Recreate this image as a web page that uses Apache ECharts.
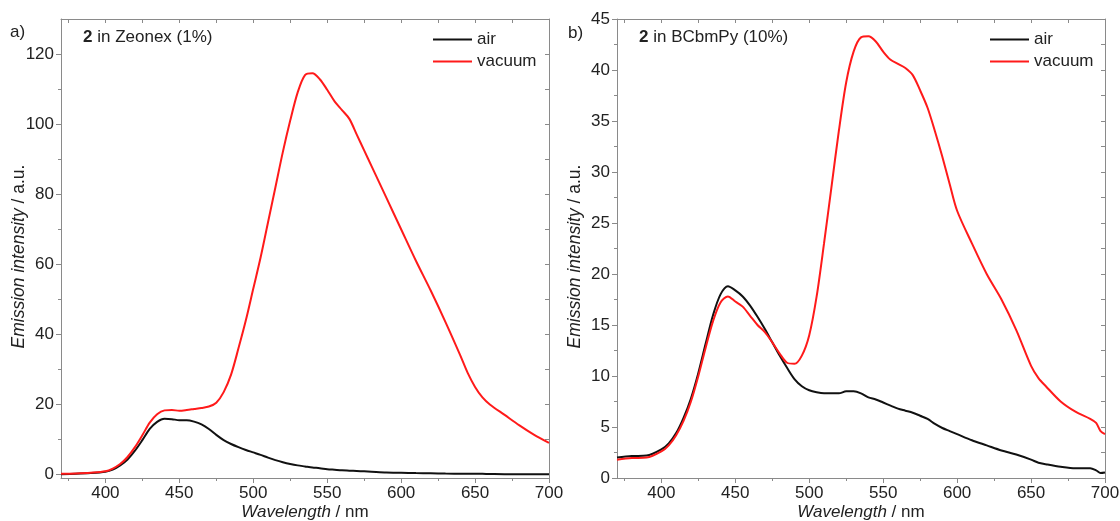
<!DOCTYPE html>
<html><head><meta charset="utf-8">
<script src="https://cdn.jsdelivr.net/npm/echarts@6/dist/echarts.min.js"></script>
<style>html,body{margin:0;padding:0;background:#fff}#c{width:1120px;height:521px}</style>
</head><body><div id="c"></div>
<script>
// ---------- data ----------
const wavelengthA = [370,380,390,400,405,410,415,420,425,430,435,440,445,450,455,460,465,470,475,480,485,490,495,500,505,510,515,520,525,530,535,540,545,550,555,560,565,570,575,580,590,600,610,620,630,640,645,650,655,660,670,680,690,700];
const airA = [0.1,0.2,0.4,0.8,1.4,2.6,4.3,6.8,9.8,13.0,15.0,15.9,15.8,15.5,15.5,15.1,14.3,13.0,11.3,9.8,8.7,7.8,7.0,6.3,5.6,4.8,4.1,3.5,3.0,2.6,2.3,2.0,1.8,1.5,1.35,1.2,1.1,1.0,0.9,0.8,0.6,0.5,0.4,0.35,0.25,0.2,0.2,0.2,0.18,0.15,0.1,0.1,0.1,0.05];
const vacuumA = [0.2,0.3,0.5,0.9,1.7,3.0,5.0,7.8,11.2,14.8,17.2,18.3,18.4,18.2,18.4,18.7,19.0,19.4,20.5,23.5,28.5,36,44,53,62,72,82,92,101,109,114,114.5,112.8,109.8,106.5,104,101.5,97,92.5,88,79,70,61,52.5,43.5,34,29,25,22,20,17,14,11.3,9];

const wavelengthB = [370,380,390,400,405,410,415,420,425,430,435,440,445,450,455,460,465,470,475,480,485,490,495,500,505,510,515,520,525,530,535,540,545,550,555,560,565,570,575,580,585,590,595,600,610,620,630,640,650,655,660,670,680,690,694,697,700];
const airB = [2.0,2.15,2.2,2.8,3.4,4.4,5.9,7.8,10.3,13.2,16.0,18.0,18.8,18.4,17.8,16.9,15.8,14.6,13.3,12.0,10.8,9.7,9.0,8.6,8.4,8.3,8.3,8.3,8.5,8.5,8.3,7.9,7.7,7.4,7.1,6.8,6.6,6.4,6.1,5.8,5.3,4.9,4.6,4.3,3.7,3.2,2.7,2.3,1.8,1.5,1.35,1.1,0.95,0.95,0.75,0.5,0.55];
const vacuumB = [1.8,1.95,2.0,2.6,3.2,4.2,5.6,7.5,10.0,12.8,15.4,17.2,17.8,17.3,16.8,15.9,15.0,14.3,13.3,12.2,11.3,11.2,12.0,14.0,17.8,23.0,28.5,34.0,38.8,41.8,43.2,43.3,42.8,41.8,41.0,40.6,40.2,39.5,38.0,36.3,34.0,31.5,28.8,26.2,23.0,20.0,17.5,14.5,11.0,9.8,9.0,7.5,6.5,5.8,5.4,4.6,4.3];

const xMajorTicks = [400,450,500,550,600,650,700];
const xMinorTicks = [375,425,475,525,575,625,675];
const yMajorTicksA = [0,20,40,60,80,100,120];
const yMinorTicksA = [10,30,50,70,90,110];
const yMajorTicksB = [0,5,10,15,20,25,30,35,40,45];
const yMinorTicksB = [2.5,7.5,12.5,17.5,22.5,27.5,32.5,37.5,42.5];

const seriesNames = ['air','vacuum'];
const panelTitles = ['2 in Zeonex (1%)','2 in BCbmPy (10%)'];
const panelLetters = ['a)','b)'];

// ---------- styling ----------
const FONT = '"Liberation Sans", Arial, sans-serif';
const AX = '#8a8a8a';
const TXT = '#222';
const X_RANGE = [370, 700];
const Y_RANGES = [[-1, 130], [0, 45]];
const GRIDS = [
  {left:61, top:19, width:488, height:459, outerBoundsMode:'none', containLabel:false},
  {left:617, top:19, width:488, height:459, outerBoundsMode:'none', containLabel:false}
];

function allOf(a, b){ return a.concat(b).sort((p,q)=>p-q); }

const xAxis = [], yAxis = [];
GRIDS.forEach((g, gi) => {
  const yMaj = gi === 0 ? yMajorTicksA : yMajorTicksB;
  const yMin = gi === 0 ? yMinorTicksA : yMinorTicksB;
  const base = {type:'value', gridIndex:gi, splitLine:{show:false}, min:X_RANGE[0], max:X_RANGE[1]};
  xAxis.push(Object.assign({}, base, {
    position:'bottom',
    axisLine:{show:true, onZero:false, lineStyle:{color:AX, width:1}},
    axisTick:{show:true, length:5, customValues:xMajorTicks, lineStyle:{color:AX}},
    axisLabel:{customValues:xMajorTicks, fontSize:17, color:TXT, margin:7, fontFamily:FONT},
    name:'{i|Wavelength} / nm', nameLocation:'middle', nameGap:26, nameMoveOverlap:false,
    nameTextStyle:{fontSize:17, color:TXT, fontFamily:FONT, rich:{i:{fontSize:17, color:TXT, fontStyle:'italic', fontFamily:FONT}}}
  }));
  xAxis.push(Object.assign({}, base, {
    position:'bottom',
    axisLine:{show:false, onZero:false},
    axisTick:{show:true, length:3, customValues:xMinorTicks, lineStyle:{color:AX}},
    axisLabel:{show:false}
  }));
  xAxis.push(Object.assign({}, base, {
    position:'top',
    axisLine:{show:true, onZero:false, lineStyle:{color:AX, width:1}},
    axisTick:{show:true, inside:true, length:4, customValues:allOf(xMajorTicks, xMinorTicks), lineStyle:{color:AX}},
    axisLabel:{show:false}
  }));
  const ybase = {type:'value', gridIndex:gi, splitLine:{show:false}, min:Y_RANGES[gi][0], max:Y_RANGES[gi][1]};
  yAxis.push(Object.assign({}, ybase, {
    position:'left',
    axisLine:{show:true, onZero:false, lineStyle:{color:AX, width:1}},
    axisTick:{show:true, length:5, customValues:yMaj, lineStyle:{color:AX}},
    axisLabel:{customValues:yMaj, fontSize:17, color:TXT, margin:7, fontFamily:FONT},
    name:'{i|Emission intensity} / a.u.', nameLocation:'middle', nameGap:33, nameRotate:90, nameMoveOverlap:false,
    nameTextStyle:{fontSize:17.5, color:TXT, fontFamily:FONT, padding:[0,16,0,0],
      rich:{i:{fontSize:17.5, color:TXT, fontStyle:'italic', fontFamily:FONT}}}
  }));
  yAxis.push(Object.assign({}, ybase, {
    position:'left',
    axisLine:{show:false, onZero:false},
    axisTick:{show:true, length:3, customValues:yMin, lineStyle:{color:AX}},
    axisLabel:{show:false}
  }));
  yAxis.push(Object.assign({}, ybase, {
    position:'right',
    axisLine:{show:true, onZero:false, lineStyle:{color:AX, width:1}},
    axisTick:{show:true, inside:true, length:4, customValues:allOf(yMaj, yMin), lineStyle:{color:AX}},
    axisLabel:{show:false}
  }));
});

function pairs(xs, ys){ return xs.map((x,i)=>[x, ys[i]]); }
const COLORS = {air:'#111111', vacuum:'#ff1a1a'};
const panelData = [[airA, vacuumA, wavelengthA], [airB, vacuumB, wavelengthB]];
const series = [];
panelData.forEach((pd, gi) => {
  [0,1].forEach(si => {
    series.push({
      type:'line', name:seriesNames[si], xAxisIndex:gi*3, yAxisIndex:gi*3,
      data:pairs(pd[2], pd[si]), showSymbol:false, symbol:'none', smooth:0.3,
      color:COLORS[seriesNames[si]], lineStyle:{width:2, color:COLORS[seriesNames[si]]},
      z: 2 + si
    });
  });
});

const legendBase = {data:seriesNames, orient:'vertical', top:31, itemWidth:39, itemHeight:2, itemGap:5,
  icon:'rect', padding:0, selectedMode:false,
  textStyle:{fontSize:17, lineHeight:17, color:TXT, fontFamily:FONT}};

const option = {
  animation:false,
  backgroundColor:'#ffffff',
  grid: GRIDS,
  xAxis, yAxis, series,
  legend:[Object.assign({}, legendBase, {left:433}), Object.assign({}, legendBase, {left:990})],
  title:[
    {text:panelLetters[0], left:10, top:24, padding:0, textStyle:{fontSize:17, fontWeight:'normal', color:TXT, fontFamily:FONT}},
    {text:panelLetters[1], left:568, top:25, padding:0, textStyle:{fontSize:17, fontWeight:'normal', color:TXT, fontFamily:FONT}},
    {text:'{b|2}' + panelTitles[0].slice(1), left:83, top:29, padding:0, textStyle:{fontSize:17, fontWeight:'normal', color:TXT, fontFamily:FONT, rich:{b:{fontSize:17, fontWeight:'bold', color:TXT, fontFamily:FONT}}}},
    {text:'{b|2}' + panelTitles[1].slice(1), left:639, top:29, padding:0, textStyle:{fontSize:17, fontWeight:'normal', color:TXT, fontFamily:FONT, rich:{b:{fontSize:17, fontWeight:'bold', color:TXT, fontFamily:FONT}}}}
  ]
};
const chart = echarts.init(document.getElementById('c'), null, {renderer:'canvas'});
chart.setOption(option);
</script></body></html>
